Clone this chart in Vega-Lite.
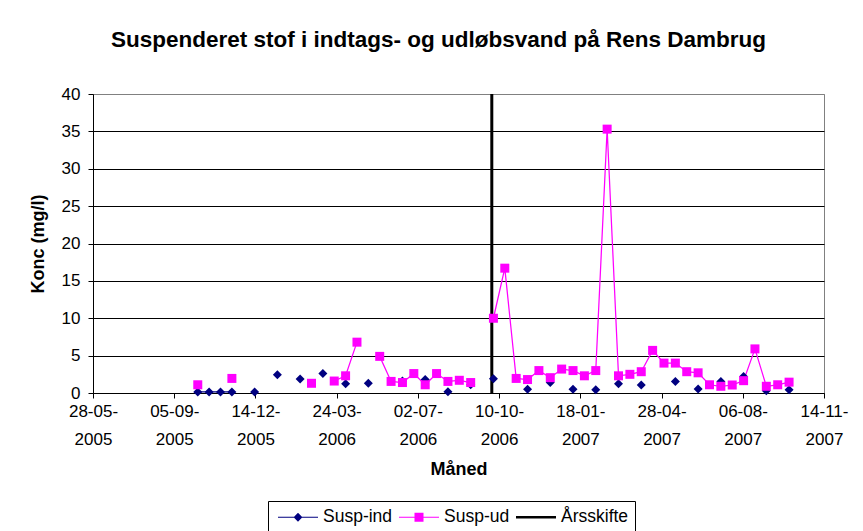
{
  "$schema": "https://vega.github.io/schema/vega-lite/v6.json",
  "width": 731,
  "height": 299,
  "autosize": {"type": "none"},
  "padding": {"left": 93, "top": 94, "right": 39, "bottom": 138},
  "background": "white",
  "config": {"font": "Liberation Sans", "view": {"stroke": "#808080", "strokeWidth": 1}},
  "title": {"text": "Suspenderet stof i indtags- og  udløbsvand på Rens Dambrug", "font": "Liberation Sans", "fontSize": 22.5, "fontWeight": "bold", "color": "black", "anchor": "middle", "frame": "group", "dx": -20, "offset": 34},
  "data": {"values": [
    {"dato": "2005-10-04", "Susp-ind": 0.15, "Susp-ud": 1.1},
    {"dato": "2005-10-18", "Susp-ind": 0.15, "Susp-ud": null},
    {"dato": "2005-11-01", "Susp-ind": 0.15, "Susp-ud": null},
    {"dato": "2005-11-15", "Susp-ind": 0.15, "Susp-ud": 1.95},
    {"dato": "2005-11-29", "Susp-ind": null, "Susp-ud": null},
    {"dato": "2005-12-13", "Susp-ind": 0.15, "Susp-ud": null},
    {"dato": "2005-12-27", "Susp-ind": null, "Susp-ud": null},
    {"dato": "2006-01-10", "Susp-ind": 2.45, "Susp-ud": null},
    {"dato": "2006-01-24", "Susp-ind": null, "Susp-ud": null},
    {"dato": "2006-02-07", "Susp-ind": 1.87, "Susp-ud": null},
    {"dato": "2006-02-21", "Susp-ind": null, "Susp-ud": 1.3},
    {"dato": "2006-03-07", "Susp-ind": 2.6, "Susp-ud": null},
    {"dato": "2006-03-21", "Susp-ind": null, "Susp-ud": 1.6},
    {"dato": "2006-04-04", "Susp-ind": 1.25, "Susp-ud": 2.3},
    {"dato": "2006-04-18", "Susp-ind": null, "Susp-ud": 6.8},
    {"dato": "2006-05-02", "Susp-ind": 1.3, "Susp-ud": null},
    {"dato": "2006-05-16", "Susp-ind": null, "Susp-ud": 4.9},
    {"dato": "2006-05-30", "Susp-ind": null, "Susp-ud": 1.55},
    {"dato": "2006-06-13", "Susp-ind": 1.6, "Susp-ud": 1.4},
    {"dato": "2006-06-27", "Susp-ind": null, "Susp-ud": 2.6},
    {"dato": "2006-07-11", "Susp-ind": 1.8, "Susp-ud": 1.1},
    {"dato": "2006-07-25", "Susp-ind": null, "Susp-ud": 2.6},
    {"dato": "2006-08-08", "Susp-ind": 0.17, "Susp-ud": 1.55},
    {"dato": "2006-08-22", "Susp-ind": null, "Susp-ud": 1.7},
    {"dato": "2006-09-05", "Susp-ind": 1.1, "Susp-ud": 1.4},
    {"dato": "2006-09-19", "Susp-ind": null, "Susp-ud": null},
    {"dato": "2006-10-03", "Susp-ind": 1.9, "Susp-ud": 10.0},
    {"dato": "2006-10-17", "Susp-ind": null, "Susp-ud": 16.7},
    {"dato": "2006-10-31", "Susp-ind": null, "Susp-ud": 1.95},
    {"dato": "2006-11-14", "Susp-ind": 0.5, "Susp-ud": 1.8},
    {"dato": "2006-11-28", "Susp-ind": null, "Susp-ud": 3.0},
    {"dato": "2006-12-12", "Susp-ind": 1.4, "Susp-ud": 2.05},
    {"dato": "2006-12-26", "Susp-ind": null, "Susp-ud": 3.2},
    {"dato": "2007-01-09", "Susp-ind": 0.5, "Susp-ud": 3.0},
    {"dato": "2007-01-23", "Susp-ind": null, "Susp-ud": 2.3},
    {"dato": "2007-02-06", "Susp-ind": 0.45, "Susp-ud": 3.0},
    {"dato": "2007-02-20", "Susp-ind": null, "Susp-ud": 35.3},
    {"dato": "2007-03-06", "Susp-ind": 1.25, "Susp-ud": 2.3},
    {"dato": "2007-03-20", "Susp-ind": null, "Susp-ud": 2.5},
    {"dato": "2007-04-03", "Susp-ind": 1.07, "Susp-ud": 2.85},
    {"dato": "2007-04-17", "Susp-ind": null, "Susp-ud": 5.7},
    {"dato": "2007-05-01", "Susp-ind": null, "Susp-ud": 4.0},
    {"dato": "2007-05-15", "Susp-ind": 1.55, "Susp-ud": 4.0},
    {"dato": "2007-05-29", "Susp-ind": null, "Susp-ud": 2.85},
    {"dato": "2007-06-12", "Susp-ind": 0.53, "Susp-ud": 2.7},
    {"dato": "2007-06-26", "Susp-ind": null, "Susp-ud": 1.1},
    {"dato": "2007-07-10", "Susp-ind": 1.55, "Susp-ud": 0.9},
    {"dato": "2007-07-24", "Susp-ind": null, "Susp-ud": 1.07},
    {"dato": "2007-08-07", "Susp-ind": 2.2, "Susp-ud": 1.65},
    {"dato": "2007-08-21", "Susp-ind": null, "Susp-ud": 5.9},
    {"dato": "2007-09-04", "Susp-ind": 0.3, "Susp-ud": 0.9},
    {"dato": "2007-09-18", "Susp-ind": null, "Susp-ud": 1.1},
    {"dato": "2007-10-02", "Susp-ind": 0.45, "Susp-ud": 1.45}
  ]},
  "layer": [
    {
      "data": {"values": [{"dato": "2006-10-01", "serie": "Årsskifte"}]},
      "mark": {"type": "rule", "strokeWidth": 3},
      "encoding": {
        "x": {"field": "dato", "type": "temporal"},
        "color": {"field": "serie", "type": "nominal"}
      }
    },
    {
      "transform": [{"fold": ["Susp-ind", "Susp-ud"], "as": ["serie", "konc"]}],
      "encoding": {
        "x": {
          "field": "dato", "type": "temporal",
          "scale": {"type": "utc", "domain": [{"year": 2005, "month": 5, "date": 28, "utc": true}, {"year": 2007, "month": 11, "date": 14, "utc": true}], "nice": false},
          "axis": {
            "title": "Måned",
            "values": [
              {"year": 2005, "month": 5, "date": 28, "utc": true},
              {"year": 2005, "month": 9, "date": 5, "utc": true},
              {"year": 2005, "month": 12, "date": 14, "utc": true},
              {"year": 2006, "month": 3, "date": 24, "utc": true},
              {"year": 2006, "month": 7, "date": 2, "utc": true},
              {"year": 2006, "month": 10, "date": 10, "utc": true},
              {"year": 2007, "month": 1, "date": 18, "utc": true},
              {"year": 2007, "month": 4, "date": 28, "utc": true},
              {"year": 2007, "month": 8, "date": 6, "utc": true},
              {"year": 2007, "month": 11, "date": 14, "utc": true}
            ],
            "tickCount": 20,
            "labelExpr": "[utcFormat(datum.value, '%d-%m-'), utcFormat(datum.value, '%Y')]",
            "grid": false, "tickSize": 5, "tickColor": "black", "domainColor": "black",
            "labelFontSize": 17, "labelColor": "black", "labelLineHeight": 28.5, "labelPadding": 5,
            "labelAngle": 0, "labelOverlap": false, "labelFlush": false,
            "titleFontSize": 18, "titleFontWeight": "bold", "titleColor": "black", "titlePadding": 13
          }
        },
        "y": {
          "field": "konc", "type": "quantitative",
          "scale": {"domain": [0, 40], "nice": false, "zero": true},
          "axis": {
            "title": "Konc (mg/l)",
            "values": [0, 5, 10, 15, 20, 25, 30, 35, 40],
            "tickCount": 10,
            "labelOverlap": false,
            "grid": true,
            "gridColor": {"condition": {"test": "datum.value === 40", "value": "#808080"}, "value": "black"},
            "tickSize": 5, "tickColor": "black", "domainColor": "black",
            "labelFontSize": 17, "labelColor": "black", "labelPadding": 8,
            "titleFontSize": 18, "titleFontWeight": "bold", "titleColor": "black", "titlePadding": 14
          }
        },
        "color": {
          "field": "serie", "type": "nominal",
          "scale": {"domain": ["Susp-ind", "Susp-ud", "Årsskifte"], "range": ["#000080", "#FF00FF", "#000000"]},
          "legend": {
            "title": null, "orient": "none", "legendX": 175, "legendY": 407, "direction": "horizontal",
            "strokeColor": "black", "fillColor": "white", "padding": 6,
            "labelFontSize": 17.5, "labelColor": "black", "labelFont": "Liberation Sans",
            "symbolSize": 400, "symbolOffset": 14, "labelOffset": 15, "columnPadding": 2,
            "encode": {
              "symbols": {
                "update": {
                  "shape": {"signal": "datum.value === 'Susp-ind' ? 'M-2,-0.06H2V0.06H-2Z M-0.44,0L0,-0.44L0.44,0L0,0.44Z' : datum.value === 'Susp-ud' ? 'M-2,-0.06H2V0.06H-2Z M-0.45,-0.45H0.45V0.45H-0.45Z' : 'M-2,-0.12H2V0.12H-2Z'"},
                  "fill": {"signal": "datum.value === 'Susp-ind' ? '#000080' : datum.value === 'Susp-ud' ? '#FF00FF' : '#000000'"},
                  "fillOpacity": {"value": 1},
                  "opacity": {"value": 1},
                  "strokeWidth": {"value": 0}
                }
              }
            }
          }
        }
      },
      "layer": [
        {"mark": {"type": "line", "strokeWidth": 1.25, "invalid": "break-paths-show-domains"}},
        {
          "mark": {"type": "point", "filled": true, "size": 81, "opacity": 1},
          "encoding": {
            "shape": {"field": "serie", "type": "nominal", "scale": {"domain": ["Susp-ind", "Susp-ud"], "range": ["diamond", "square"]}, "legend": null}
          }
        }
      ]
    }
  ]
}
